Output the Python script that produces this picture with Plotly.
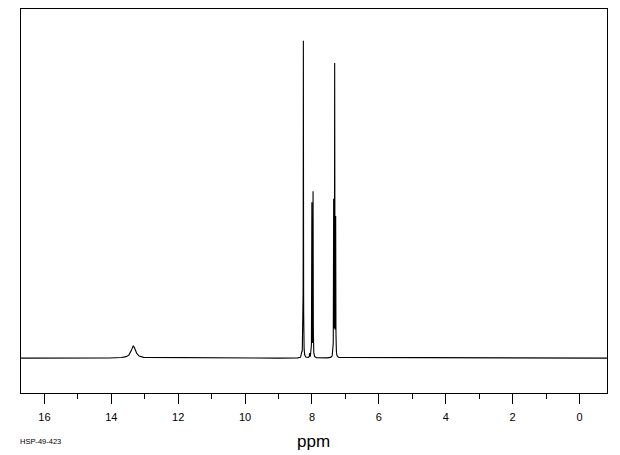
import numpy as np
import plotly.graph_objects as go

# Peak list (ppm, relative height, half-width at half max in ppm)
peak_ppm = [13.34, 8.297, 8.258, 8.07, 8.004, 7.968, 7.352, 7.322, 7.292]
peak_height = [3.8, 1.3, 100.0, 1.3, 48.5, 52.0, 48.5, 91.5, 43.0]
peak_hwhm = [0.08, 0.006, 0.004, 0.006, 0.004, 0.004, 0.004, 0.004, 0.004]

x_ticks = [16, 14, 12, 10, 8, 6, 4, 2, 0]
x_tick_labels = ["16", "14", "12", "10", "8", "6", "4", "2", "0"]
sample_code = "HSP-49-423"
x_title = "ppm"

# spectrum built from the peak list (sum of Lorentzian lines)
grid = np.arange(-0.82, 16.70, 0.002)
grid = np.unique(np.concatenate([grid, np.array(peak_ppm)]))
intensity = np.zeros_like(grid)
for c, h, w in zip(peak_ppm, peak_height, peak_hwhm):
    intensity += h * w**2 / ((grid - c) ** 2 + w**2)

fig = go.Figure()
fig.add_trace(go.Scatter(x=grid, y=intensity, mode="lines",
                         line=dict(color="black", width=1.1), hoverinfo="skip"))

fig.update_layout(
    width=620, height=455,
    margin=dict(l=21, r=13, t=9, b=62),
    paper_bgcolor="white", plot_bgcolor="white",
    showlegend=False,
    font=dict(family="Liberation Sans", color="black"),
)
fig.update_xaxes(
    range=[16.70, -0.82],
    tickmode="array", tickvals=x_ticks, ticktext=x_tick_labels,
    ticks="outside", ticklen=10, tickwidth=1, tickcolor="black",
    ticklabelstandoff=4,
    tickfont=dict(size=11, family="Liberation Sans", color="black"),
    minor=dict(tickmode="linear", tick0=1, dtick=2, ticks="outside",
               ticklen=5, tickwidth=1, tickcolor="black", showgrid=False),
    showline=True, linecolor="black", linewidth=1, mirror=True,
    showgrid=False, zeroline=False,
)
fig.update_yaxes(
    range=[-11.0, 110.1],
    showticklabels=False, ticks="",
    showline=True, linecolor="black", linewidth=1, mirror=True,
    showgrid=False, zeroline=False,
)
fig.add_annotation(text=x_title, xref="paper", yref="paper",
                   x=(313 - 21) / 586, y=-(441 - 393) / 384,
                   xanchor="center", yanchor="middle", showarrow=False,
                   font=dict(size=17, family="Liberation Sans", color="black"))
fig.add_annotation(text=sample_code, xref="paper", yref="paper",
                   x=-(21 - 18) / 586, y=-(441 - 393) / 384,
                   xanchor="left", yanchor="middle", showarrow=False,
                   font=dict(size=7.5, family="Liberation Sans", color="black"))

fig.write_html("out.html")
